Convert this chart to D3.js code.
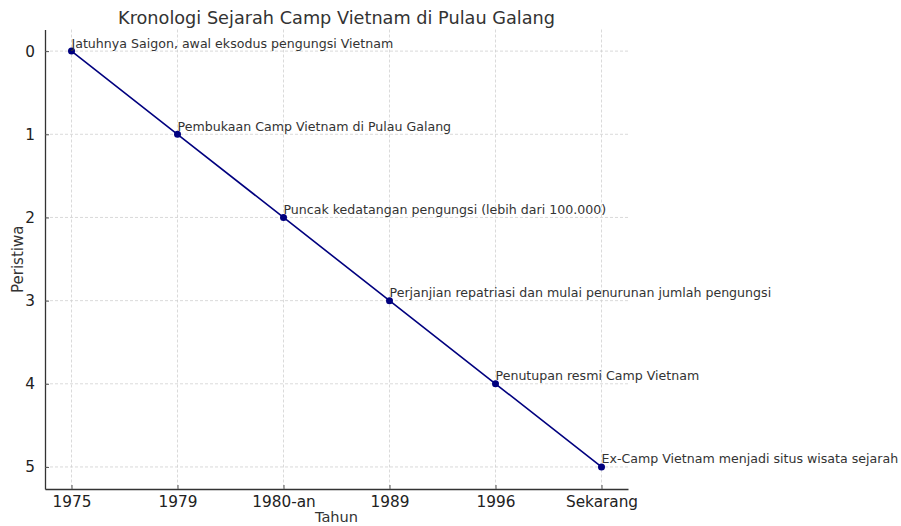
<!DOCTYPE html>
<html lang="en">
	<head>
		<meta charset="utf-8">
		<title>Kronologi Sejarah Camp Vietnam di Pulau Galang</title>
		<script type="text/javascript" src="https://cdn.jsdelivr.net/npm/d3@7"></script>
		<style>
			body {
				margin: 0;
				background: #fff;
				font-family: "DejaVu Sans", sans-serif;
			}
		</style>
	</head>
	<body>
		<script type="text/javascript">

			//Data
			var years = ["1975", "1979", "1980-an", "1989", "1996", "Sekarang"];
			var eventIndex = [0, 1, 2, 3, 4, 5];
			var events = [
				"Jatuhnya Saigon, awal eksodus pengungsi Vietnam",
				"Pembukaan Camp Vietnam di Pulau Galang",
				"Puncak kedatangan pengungsi (lebih dari 100.000)",
				"Perjanjian repatriasi dan mulai penurunan jumlah pengungsi",
				"Penutupan resmi Camp Vietnam",
				"Ex-Camp Vietnam menjadi situs wisata sejarah"
			];
			var yTicks = [0, 1, 2, 3, 4, 5];

			//Width and height
			var w = 901;
			var h = 526;
			var plotLeft = 45, plotRight = 628, plotTop = 29.5, plotBottom = 489;

			var x = d3.scalePoint()
					  .domain(years)
					  .range([plotLeft, plotRight])
					  .padding(0.25);

			var y = d3.scaleLinear()
					  .domain([-0.26, 5.265])
					  .range([plotTop, plotBottom]);

			var svg = d3.select("body")
						.append("svg")
						.attr("width", w)
						.attr("height", h);

			//Grid
			svg.append("g")
			   .selectAll("line")
			   .data(years)
			   .enter()
			   .append("line")
			   .attr("x1", d => x(d)).attr("x2", d => x(d))
			   .attr("y1", plotTop).attr("y2", plotBottom)
			   .attr("stroke", "#d0d0d0")
			   .attr("stroke-dasharray", "3,2")
			   .attr("stroke-width", 0.8);

			svg.append("g")
			   .selectAll("line")
			   .data(yTicks)
			   .enter()
			   .append("line")
			   .attr("x1", plotLeft).attr("x2", plotRight)
			   .attr("y1", d => y(d)).attr("y2", d => y(d))
			   .attr("stroke", "#d0d0d0")
			   .attr("stroke-dasharray", "3,2")
			   .attr("stroke-width", 0.8);

			//Axes
			var xAxis = svg.append("g")
						   .attr("transform", "translate(0," + plotBottom + ")")
						   .call(d3.axisBottom(x).tickSizeInner(-4).tickSizeOuter(0).tickPadding(8));
			var yAxis = svg.append("g")
						   .attr("transform", "translate(" + plotLeft + ",0)")
						   .call(d3.axisLeft(y).tickValues(yTicks).tickFormat(d3.format("d"))
						   .tickSizeInner(-4).tickSizeOuter(0).tickPadding(8));

			[xAxis, yAxis].forEach(function(g) {
				g.select(".domain").attr("stroke", "#333").attr("stroke-width", 1.3);
				g.selectAll(".tick line").attr("stroke", "#555");
				g.selectAll(".tick text")
				 .attr("fill", "#222")
				 .style("font-size", "15.3px")
				 .style("font-family", "DejaVu Sans, sans-serif");
			});
			xAxis.selectAll(".tick text").attr("y", 7);
			yAxis.selectAll(".tick text").attr("x", -10);

			//Line
			var data = years.map((d, i) => ({ year: d, idx: eventIndex[i], label: events[i] }));

			var line = d3.line()
						 .x(d => x(d.year))
						 .y(d => y(d.idx));

			svg.append("path")
			   .datum(data)
			   .attr("d", line)
			   .attr("fill", "none")
			   .attr("stroke", "#00007f")
			   .attr("stroke-width", 1.6);

			svg.selectAll("circle")
			   .data(data)
			   .enter()
			   .append("circle")
			   .attr("cx", d => x(d.year))
			   .attr("cy", d => y(d.idx))
			   .attr("r", 3.5)
			   .attr("fill", "#00007f");

			svg.selectAll("text.ann")
			   .data(data)
			   .enter()
			   .append("text")
			   .attr("class", "ann")
			   .attr("x", d => x(d.year))
			   .attr("y", d => y(d.idx) - 3.5)
			   .attr("fill", "#333")
			   .style("font-size", "12.6px")
			   .text(d => d.label);

			//Title and labels
			svg.append("text")
			   .attr("x", (plotLeft + plotRight) / 2)
			   .attr("y", 24)
			   .attr("text-anchor", "middle")
			   .attr("fill", "#333")
			   .style("font-size", "17.7px")
			   .text("Kronologi Sejarah Camp Vietnam di Pulau Galang");

			svg.append("text")
			   .attr("x", (plotLeft + plotRight) / 2)
			   .attr("y", 522)
			   .attr("text-anchor", "middle")
			   .attr("fill", "#333")
			   .style("font-size", "14.6px")
			   .text("Tahun");

			svg.append("text")
			   .attr("transform", "translate(23," + ((plotTop + plotBottom) / 2) + ") rotate(-90)")
			   .attr("text-anchor", "middle")
			   .attr("fill", "#333")
			   .style("font-size", "15px")
			   .text("Peristiwa");

		</script>
	</body>
</html>
